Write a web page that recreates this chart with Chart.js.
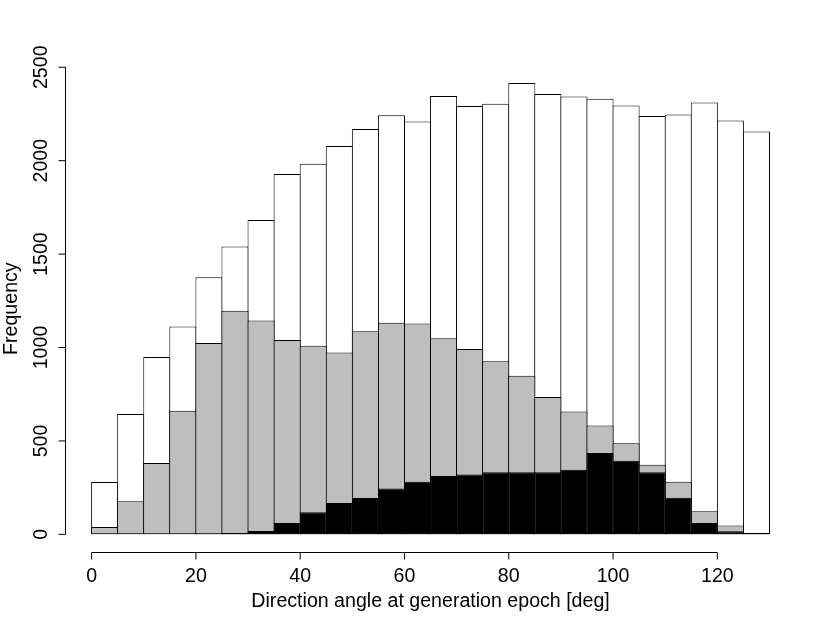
<!DOCTYPE html>
<html lang="en">
<head>
    <meta charset="UTF-8">
    <title>Direction angle histogram</title>
    <script src="https://cdn.jsdelivr.net/npm/chart.js"></script>
    <style>
        html, body { margin: 0; padding: 0; background: #fff; }
        canvas { display: block; }
    </style>
</head>
<body>
    <canvas id="myChart" width="830" height="633"></canvas>

    <script type="text/javascript">
        // histogram bins (5 deg wide), value = bin centre
        const binCenters = [2.5, 7.5, 12.5, 17.5, 22.5, 27.5, 32.5, 37.5, 42.5, 47.5, 52.5, 57.5, 62.5,
            67.5, 72.5, 77.5, 82.5, 87.5, 92.5, 97.5, 102.5, 107.5, 112.5, 117.5, 122.5, 127.5];

        // counts
        const countsAll = [280, 644, 949, 1112, 1376, 1540, 1683, 1929, 1984, 2079, 2170, 2243, 2209,
            2346, 2293, 2305, 2416, 2357, 2343, 2332, 2295, 2239, 2247, 2311, 2215, 2156];
        const countsGray = [39, 177, 382, 662, 1024, 1197, 1144, 1040, 1010, 973, 1087, 1133, 1128,
            1050, 992, 926, 849, 735, 657, 582, 487, 373, 282, 123, 48, 9];
        const countsBlack = [0, 0, 0, 0, 3, 7, 18, 61, 118, 168, 195, 246, 282,
            312, 320, 332, 332, 332, 346, 435, 394, 332, 196, 61, 16, 3];

        const xTicks = [0, 20, 40, 60, 80, 100, 120];
        const yTicks = [0, 500, 1000, 1500, 2000, 2500];

        const xTitle = 'Direction angle at generation epoch [deg]';
        const yTitle = 'Frequency';
        const FONT = '19.6px "Liberation Sans", Arial, Helvetica, sans-serif';

        function toPoints(counts) {
            return binCenters.map(function (c, i) {
                return { x: c, y: counts[i] };
            });
        }

        // R-style axes: line only across the tick range, ticks outward
        const rAxes = {
            id: 'rAxes',
            afterDraw(chart) {
                const c = chart.ctx;
                const xs = chart.scales.x;
                const ys = chart.scales.y;
                const area = chart.chartArea;
                const yAxis = Math.round(area.left) + 0.5;
                const xAxis = Math.round(area.bottom) + 0.5;

                c.save();
                c.strokeStyle = '#000';
                c.fillStyle = '#000';
                c.lineWidth = 1;
                c.font = FONT;

                // x axis
                c.beginPath();
                c.moveTo(xs.getPixelForValue(xTicks[0]), xAxis);
                c.lineTo(xs.getPixelForValue(xTicks[xTicks.length - 1]), xAxis);
                xTicks.forEach(function (t) {
                    const px = xs.getPixelForValue(t);
                    c.moveTo(px, xAxis);
                    c.lineTo(px, xAxis + 7);
                });
                c.stroke();
                c.textAlign = 'center';
                c.textBaseline = 'alphabetic';
                xTicks.forEach(function (t) {
                    c.fillText(String(t), xs.getPixelForValue(t), 582);
                });
                c.fillText(xTitle, (area.left + area.right) / 2, 607);

                // y axis
                c.beginPath();
                c.moveTo(yAxis, ys.getPixelForValue(yTicks[0]));
                c.lineTo(yAxis, ys.getPixelForValue(yTicks[yTicks.length - 1]));
                yTicks.forEach(function (t) {
                    const py = ys.getPixelForValue(t);
                    c.moveTo(yAxis, py);
                    c.lineTo(yAxis - 7, py);
                });
                c.stroke();
                yTicks.forEach(function (t) {
                    c.save();
                    c.translate(47, ys.getPixelForValue(t));
                    c.rotate(-Math.PI / 2);
                    c.fillText(String(t), 0, 0);
                    c.restore();
                });
                c.save();
                c.translate(17, (area.top + area.bottom) / 2);
                c.rotate(-Math.PI / 2);
                c.fillText(yTitle, 0, 0);
                c.restore();

                c.restore();
            }
        };

        const ctx = document.getElementById('myChart');

        let myChart = new Chart(ctx, {
            type: 'bar',
            data: {
                datasets: [{
                    label: 'all',
                    data: toPoints(countsAll),
                    backgroundColor: '#ffffff',
                    order: 3
                }, {
                    label: 'gray',
                    data: toPoints(countsGray),
                    backgroundColor: '#bebebe',
                    order: 2
                }, {
                    label: 'black',
                    data: toPoints(countsBlack),
                    backgroundColor: '#000000',
                    order: 1
                }]
            },
            options: {
                responsive: false,
                animation: false,
                devicePixelRatio: 1,
                layout: {
                    padding: { left: 64.5, right: 33.4, top: 64.9, bottom: 80.6 }
                },
                datasets: {
                    bar: {
                        grouped: false,
                        // a touch wider than the bin so neighbouring borders share one line
                        barPercentage: 1.038,
                        categoryPercentage: 1,
                        borderColor: '#000000',
                        borderWidth: 1,
                        borderSkipped: false
                    }
                },
                scales: {
                    x: { type: 'linear', min: -5.2, max: 135.2, offset: false, display: false },
                    y: { type: 'linear', min: -96.6, max: 2512.6, display: false }
                },
                plugins: {
                    legend: { display: false },
                    tooltip: { enabled: false }
                }
            },
            plugins: [rAxes]
        });
    </script>
</body>
</html>
